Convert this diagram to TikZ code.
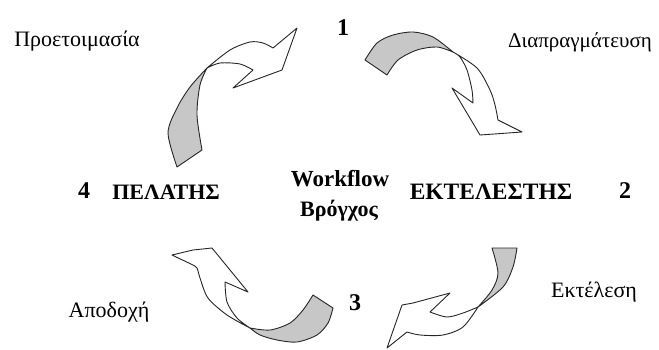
\documentclass[tikz,border=0pt]{standalone}
\usepackage{fontspec}
\setmainfont{Liberation Serif}
\begin{document}
\begin{tikzpicture}[x=1pt,y=-1pt,
  band/.style={draw=black!85,line width=0.9pt,line join=round,fill=white},
  shade/.style={draw=black!85,line width=0.9pt,line join=round,fill=black!22},
  lbl/.style={font=\fontsize{22}{24}\selectfont,inner sep=0pt},
  big/.style={font=\fontsize{22}{24}\selectfont\bfseries,inner sep=0pt},
  num/.style={font=\fontsize{24}{26}\selectfont\bfseries,inner sep=0pt}]
\useasboundingbox (0,0) rectangle (659,349);
% arrow 1 (top-left)
\draw[band] plot[smooth] coordinates {(207,68) (230,50) (250,42) (263,43) (273,48)}
  -- (297,28) -- (282,70) -- (233,88) -- (253,70)
  -- plot[smooth] coordinates {(253,70) (240,64) (220,63) (207,68)} -- cycle;
\draw[shade] plot[smooth] coordinates {(177,167) (168,133) (177,108) (190,87) (207,68)}
  -- plot[smooth] coordinates {(207,68) (200,85) (197,115) (202,150)} -- cycle;
% arrow 2 (top-right)
\draw[band] plot[smooth] coordinates {(453,52) (477,68) (490,90) (495,105) (498,120)}
  -- (522,132) -- (480,135) -- (452,88) -- (473,103)
  -- plot[smooth] coordinates {(473,103) (472,90) (467,70) (460,57) (453,52)} -- cycle;
\draw[shade] plot[smooth] coordinates {(365,60) (377,43) (393,35) (413,32) (433,37) (453,52)}
  -- plot[smooth] coordinates {(453,52) (437,47) (417,50) (398,60) (387,75)} -- cycle;
% arrow 3 (bottom-right)
\draw[band] plot[smooth] coordinates {(478,307) (463,327) (443,335) (420,335) (407,332)}
  -- (387,348) -- (402,305) -- (413,303) -- (450,293) -- (430,312)
  -- plot[smooth] coordinates {(430,312) (447,317) (463,313) (478,307)} -- cycle;
\draw[shade] plot[smooth] coordinates {(492,248) (498,273) (492,290) (478,307)}
  -- plot[smooth] coordinates {(478,307) (503,287) (513,267) (517,248)} -- cycle;
% arrow 4 (bottom-left)
\draw[band] plot[smooth] coordinates {(250,328) (227,315) (208,298) (200,278) (197,268) (193,265)}
  -- (172,255) -- (193,250) -- (212,248) -- (248,292) -- (225,282)
  -- plot[smooth] coordinates {(225,282) (227,302) (237,318) (250,328)} -- cycle;
\draw[shade] plot[smooth] coordinates {(313,295) (303,310) (290,323) (270,330) (250,328)}
  -- plot[smooth] coordinates {(250,328) (260,335) (277,340) (297,342) (317,335) (328,323) (333,308)} -- cycle;
% labels
\node[lbl] (prep) at (77,41) {Προετοιμασία};
\node[lbl,font=\fontsize{21}{23}\selectfont] (neg) at (580,42) {Διαπραγμάτευση};
\node[lbl] (exe) at (594,292) {Εκτέλεση};
\node[lbl] (acc) at (109,312) {Αποδοχή};
\node[num] (n1) at (343,28) {1};
\node[num] (n2) at (625,191) {2};
\node[num] (n3) at (355,303) {3};
\node[num] (n4) at (84,191) {4};
\node[big] (cust) at (166,192) {ΠΕΛΑΤΗΣ};
\node[big,font=\fontsize{23.5}{25}\selectfont\bfseries] (perf) at (491,192) {ΕΚΤΕΛΕΣΤΗΣ};
\node[big,font=\fontsize{23}{25}\selectfont\bfseries] (wf) at (340,179) {Workflow};
\node[big] (wf2) at (339,211) {Βρόγχος};
\end{tikzpicture}
\end{document}
